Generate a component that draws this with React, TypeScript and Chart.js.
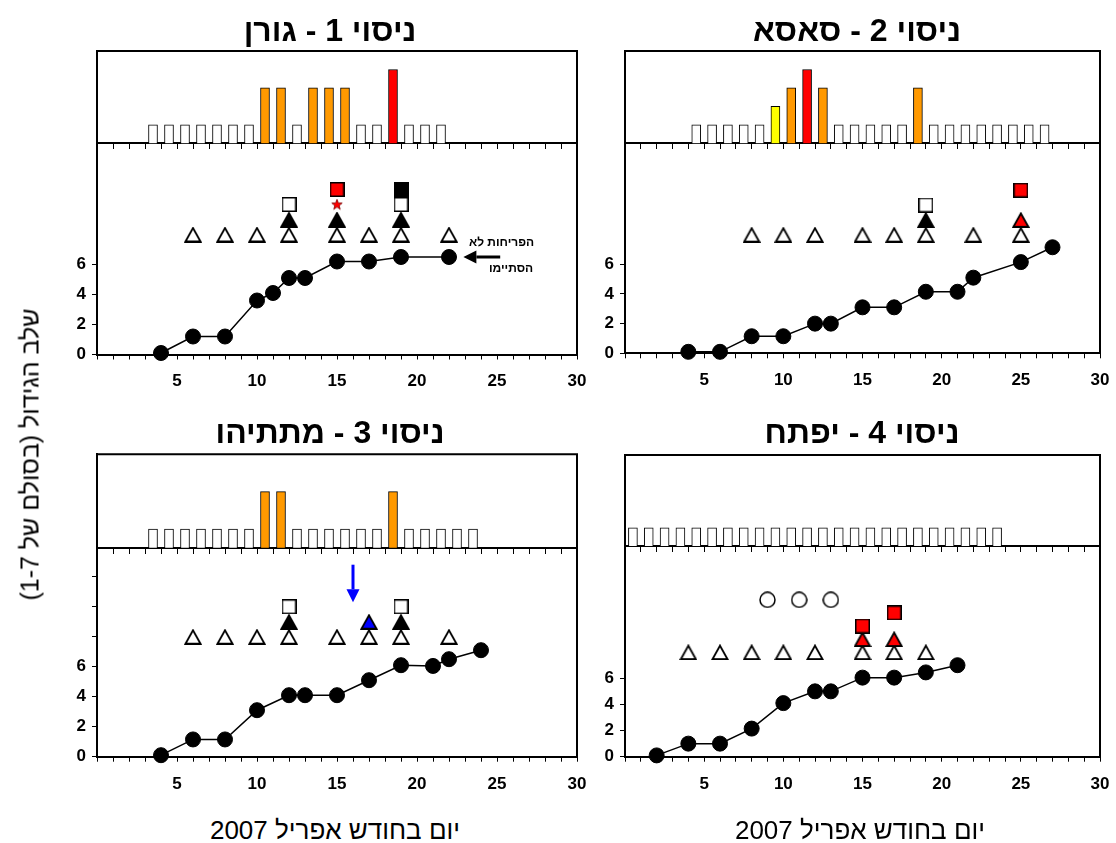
import React, { useEffect, useRef } from 'react';
import { Chart, registerables } from 'chart.js';

Chart.register(...registerables);

const FONT = '"Liberation Sans", Arial, Helvetica, sans-serif';

// ---------- shared axis labels ----------
const X_TICK_LABELS = [5, 10, 15, 20, 25, 30];
const Y_TICK_LABELS = [0, 2, 4, 6];
const X_TITLE = 'יום בחודש אפריל 2007';
const Y_TITLE = 'שלב הגידול (בסולם של 1-7)';
const BAR_MAX = 5;

// ---------- panel 1 ----------
const P1_TITLE = 'ניסוי 1 - גורן';
const P1_Y_TICKS = [0, 2, 4, 6];
const P1_BAR_DAYS = [4, 5, 6, 7, 8, 9, 10, 11, 12, 13, 14, 15, 16, 17, 18, 19, 20, 21, 22];
const P1_BAR_HEIGHTS = [1, 1, 1, 1, 1, 1, 1, 3, 3, 1, 3, 3, 3, 1, 1, 4, 1, 1, 1];
const P1_GROWTH_DAYS = [4, 6, 8, 10, 11, 12, 13, 15, 17, 19, 22];
const P1_GROWTH_VALUES = [0.1, 1.2, 1.2, 3.6, 4.1, 5.1, 5.1, 6.2, 6.2, 6.5, 6.5];
const P1_OPEN_TRI_DAYS = [6, 8, 10, 12, 15, 17, 19, 22];
const P1_OPEN_TRI_VALUES = [8, 8, 8, 8, 8, 8, 8, 8];
const P1_BLACK_TRI_DAYS = [12, 15, 19];
const P1_BLACK_TRI_VALUES = [9, 9, 9];
const P1_WHITE_SQ_DAYS = [12, 19];
const P1_WHITE_SQ_VALUES = [10, 10];
const P1_RED_SQ_DAYS = [15];
const P1_RED_SQ_VALUES = [11];
const P1_RED_STAR_DAYS = [15];
const P1_RED_STAR_VALUES = [10];
const P1_BLACK_SQ_DAYS = [19];
const P1_BLACK_SQ_VALUES = [11];
const P1_NOTE_LINES = ['הפריחות לא', 'הסתיימו'];
const P1_NOTE_ARROW_FROM = 25.2;
const P1_NOTE_ARROW_TO = 22.9;
const P1_NOTE_VALUE = 6.5;

// ---------- panel 2 ----------
const P2_TITLE = 'ניסוי 2 - סאסא';
const P2_Y_TICKS = [0, 2, 4, 6];
const P2_BAR_DAYS = [5, 6, 7, 8, 9, 10, 11, 12, 13, 14, 15, 16, 17, 18, 19, 20, 21, 22, 23, 24, 25, 26, 27];
const P2_BAR_HEIGHTS = [1, 1, 1, 1, 1, 2, 3, 4, 3, 1, 1, 1, 1, 1, 3, 1, 1, 1, 1, 1, 1, 1, 1];
const P2_GROWTH_DAYS = [4, 6, 8, 10, 12, 13, 15, 17, 19, 21, 22, 25, 27];
const P2_GROWTH_VALUES = [0.1, 0.1, 1.15, 1.15, 2.0, 2.0, 3.1, 3.1, 4.15, 4.15, 5.1, 6.15, 7.15];
const P2_OPEN_TRI_DAYS = [8, 10, 12, 15, 17, 19, 22, 25];
const P2_OPEN_TRI_VALUES = [8, 8, 8, 8, 8, 8, 8, 8];
const P2_BLACK_TRI_DAYS = [19];
const P2_BLACK_TRI_VALUES = [9];
const P2_RED_TRI_DAYS = [25];
const P2_RED_TRI_VALUES = [9];
const P2_WHITE_SQ_DAYS = [19];
const P2_WHITE_SQ_VALUES = [10];
const P2_RED_SQ_DAYS = [25];
const P2_RED_SQ_VALUES = [11];

// ---------- panel 3 ----------
const P3_TITLE = 'ניסוי 3 - מתתיהו';
const P3_Y_TICKS = [0, 2, 4, 6, 8, 10, 12];
const P3_BAR_DAYS = [4, 5, 6, 7, 8, 9, 10, 11, 12, 13, 14, 15, 16, 17, 18, 19, 20, 21, 22, 23, 24];
const P3_BAR_HEIGHTS = [1, 1, 1, 1, 1, 1, 1, 3, 3, 1, 1, 1, 1, 1, 1, 3, 1, 1, 1, 1, 1];
const P3_GROWTH_DAYS = [4, 6, 8, 10, 12, 13, 15, 17, 19, 21, 22, 24];
const P3_GROWTH_VALUES = [0.1, 1.15, 1.15, 3.1, 4.1, 4.1, 4.1, 5.1, 6.1, 6.05, 6.5, 7.1];
const P3_OPEN_TRI_DAYS = [6, 8, 10, 12, 15, 17, 19, 22];
const P3_OPEN_TRI_VALUES = [8, 8, 8, 8, 8, 8, 8, 8];
const P3_BLACK_TRI_DAYS = [12, 19];
const P3_BLACK_TRI_VALUES = [9, 9];
const P3_BLUE_TRI_DAYS = [17];
const P3_BLUE_TRI_VALUES = [9];
const P3_WHITE_SQ_DAYS = [12, 19];
const P3_WHITE_SQ_VALUES = [10, 10];
const P3_ARROW_DAY = 16;
const P3_ARROW_FROM = 12.8;
const P3_ARROW_TO = 10.3;

// ---------- panel 4 ----------
const P4_TITLE = 'ניסוי 4 - יפתח';
const P4_Y_TICKS = [0, 2, 4, 6];
const P4_BAR_DAYS = [1, 2, 3, 4, 5, 6, 7, 8, 9, 10, 11, 12, 13, 14, 15, 16, 17, 18, 19, 20, 21, 22, 23, 24];
const P4_BAR_HEIGHTS = [1, 1, 1, 1, 1, 1, 1, 1, 1, 1, 1, 1, 1, 1, 1, 1, 1, 1, 1, 1, 1, 1, 1, 1];
const P4_GROWTH_DAYS = [2, 4, 6, 8, 10, 12, 13, 15, 17, 19, 21];
const P4_GROWTH_VALUES = [0.1, 1.0, 1.0, 2.15, 4.1, 5.0, 5.0, 6.05, 6.05, 6.45, 7.0];
const P4_OPEN_TRI_DAYS = [4, 6, 8, 10, 12, 15, 17, 19];
const P4_OPEN_TRI_VALUES = [8, 8, 8, 8, 8, 8, 8, 8];
const P4_RED_TRI_DAYS = [15, 17];
const P4_RED_TRI_VALUES = [9, 9];
const P4_RED_SQ_DAYS = [15, 17];
const P4_RED_SQ_VALUES = [10, 11];
const P4_OPEN_CIRCLE_DAYS = [9, 11, 13];
const P4_OPEN_CIRCLE_VALUES = [12, 12, 12];

// ---------- styles ----------
const BAR_COLORS: Record<number, string> = { 1: '#FFFFFF', 2: '#FFFF00', 3: '#FF9900', 4: '#FF0000' };

type Geom = { left: number; right: number; top: number; barBase: number; zero: number; unit: number };
type Marker = { kind: string; days: number[]; values: number[] };
type PanelDef = {
  title: string; titleX: number; titleY: number; geom: Geom; yTicks: number[];
  barDays: number[]; barHeights: number[]; growthDays: number[]; growthValues: number[];
  markers: Marker[]; annotate?: (chart: any) => void;
};

function drawArrow(ctx: CanvasRenderingContext2D, x1: number, y1: number, x2: number, y2: number, color: string, width: number, headLen: number, headW: number) {
  const ang = Math.atan2(y2 - y1, x2 - x1);
  const bx = x2 - Math.cos(ang) * headLen;
  const by = y2 - Math.sin(ang) * headLen;
  ctx.save();
  ctx.strokeStyle = color;
  ctx.fillStyle = color;
  ctx.lineWidth = width;
  ctx.beginPath();
  ctx.moveTo(x1, y1);
  ctx.lineTo(bx, by);
  ctx.stroke();
  ctx.beginPath();
  ctx.moveTo(x2, y2);
  ctx.lineTo(bx + Math.sin(ang) * headW / 2, by - Math.cos(ang) * headW / 2);
  ctx.lineTo(bx - Math.sin(ang) * headW / 2, by + Math.cos(ang) * headW / 2);
  ctx.closePath();
  ctx.fill();
  ctx.restore();
}

const PANELS: PanelDef[] = [
  {
    title: P1_TITLE, titleX: 330, titleY: 30, yTicks: P1_Y_TICKS,
    geom: { left: 97, right: 577, top: 51, barBase: 143.3, zero: 354.5, unit: 15 },
    barDays: P1_BAR_DAYS, barHeights: P1_BAR_HEIGHTS, growthDays: P1_GROWTH_DAYS, growthValues: P1_GROWTH_VALUES,
    markers: [
      { kind: 'openTri', days: P1_OPEN_TRI_DAYS, values: P1_OPEN_TRI_VALUES },
      { kind: 'blackTri', days: P1_BLACK_TRI_DAYS, values: P1_BLACK_TRI_VALUES },
      { kind: 'whiteSq', days: P1_WHITE_SQ_DAYS, values: P1_WHITE_SQ_VALUES },
      { kind: 'redSq', days: P1_RED_SQ_DAYS, values: P1_RED_SQ_VALUES },
      { kind: 'blackSq', days: P1_BLACK_SQ_DAYS, values: P1_BLACK_SQ_VALUES },
      { kind: 'redStar', days: P1_RED_STAR_DAYS, values: P1_RED_STAR_VALUES },
    ],
    annotate: (chart) => {
      const { ctx, scales } = chart;
      const y = scales.y.getPixelForValue(P1_NOTE_VALUE);
      const xFrom = scales.x.getPixelForValue(P1_NOTE_ARROW_FROM);
      const xTo = scales.x.getPixelForValue(P1_NOTE_ARROW_TO);
      drawArrow(ctx, xFrom, y, xTo, y, '#000', 3, 13, 13);
      ctx.save();
      ctx.font = `bold 12px ${FONT}`;
      ctx.fillStyle = '#000';
      ctx.direction = 'rtl';
      ctx.textAlign = 'right';
      ctx.textBaseline = 'middle';
      ctx.fillText(P1_NOTE_LINES[0], xFrom + 34, y - 14);
      ctx.fillText(P1_NOTE_LINES[1], xFrom + 33, y + 12);
      ctx.restore();
    },
  },
  {
    title: P2_TITLE, titleX: 857, titleY: 30, yTicks: P2_Y_TICKS,
    geom: { left: 625, right: 1100, top: 51, barBase: 143.3, zero: 353.3, unit: 14.83 },
    barDays: P2_BAR_DAYS, barHeights: P2_BAR_HEIGHTS, growthDays: P2_GROWTH_DAYS, growthValues: P2_GROWTH_VALUES,
    markers: [
      { kind: 'openTri', days: P2_OPEN_TRI_DAYS, values: P2_OPEN_TRI_VALUES },
      { kind: 'blackTri', days: P2_BLACK_TRI_DAYS, values: P2_BLACK_TRI_VALUES },
      { kind: 'redTri', days: P2_RED_TRI_DAYS, values: P2_RED_TRI_VALUES },
      { kind: 'whiteSq', days: P2_WHITE_SQ_DAYS, values: P2_WHITE_SQ_VALUES },
      { kind: 'redSq', days: P2_RED_SQ_DAYS, values: P2_RED_SQ_VALUES },
    ],
  },
  {
    title: P3_TITLE, titleX: 330, titleY: 432, yTicks: P3_Y_TICKS,
    geom: { left: 97, right: 577, top: 454.3, barBase: 547.7, zero: 756.7, unit: 15 },
    barDays: P3_BAR_DAYS, barHeights: P3_BAR_HEIGHTS, growthDays: P3_GROWTH_DAYS, growthValues: P3_GROWTH_VALUES,
    markers: [
      { kind: 'openTri', days: P3_OPEN_TRI_DAYS, values: P3_OPEN_TRI_VALUES },
      { kind: 'blackTri', days: P3_BLACK_TRI_DAYS, values: P3_BLACK_TRI_VALUES },
      { kind: 'blueTri', days: P3_BLUE_TRI_DAYS, values: P3_BLUE_TRI_VALUES },
      { kind: 'whiteSq', days: P3_WHITE_SQ_DAYS, values: P3_WHITE_SQ_VALUES },
    ],
    annotate: (chart) => {
      const { ctx, scales } = chart;
      const x = scales.x.getPixelForValue(P3_ARROW_DAY);
      drawArrow(ctx, x, scales.y.getPixelForValue(P3_ARROW_FROM), x, scales.y.getPixelForValue(P3_ARROW_TO), '#0000FF', 3, 13, 13);
    },
  },
  {
    title: P4_TITLE, titleX: 862, titleY: 432, yTicks: P4_Y_TICKS,
    geom: { left: 625, right: 1100, top: 455, barBase: 546, zero: 756.7, unit: 13.07 },
    barDays: P4_BAR_DAYS, barHeights: P4_BAR_HEIGHTS, growthDays: P4_GROWTH_DAYS, growthValues: P4_GROWTH_VALUES,
    markers: [
      { kind: 'openTri', days: P4_OPEN_TRI_DAYS, values: P4_OPEN_TRI_VALUES },
      { kind: 'redTri', days: P4_RED_TRI_DAYS, values: P4_RED_TRI_VALUES },
      { kind: 'redSq', days: P4_RED_SQ_DAYS, values: P4_RED_SQ_VALUES },
      { kind: 'openCircle', days: P4_OPEN_CIRCLE_DAYS, values: P4_OPEN_CIRCLE_VALUES },
    ],
  },
];

const markerCache: Record<string, HTMLCanvasElement> = {};
function markerImage(kind: string): HTMLCanvasElement {
  if (markerCache[kind]) return markerCache[kind];
  const c = document.createElement('canvas');
  const ctx = c.getContext('2d')!;
  if (kind.endsWith('Tri')) {
    c.width = 18; c.height = 16;
    ctx.strokeStyle = '#000';
    ctx.lineWidth = 1.8;
    ctx.lineJoin = 'miter';
    ctx.fillStyle = kind === 'openTri' ? '#FFFFFF' : kind === 'blackTri' ? '#000000' : kind === 'redTri' ? '#FF0000' : '#0000FF';
    ctx.beginPath();
    ctx.moveTo(1.5, 15);
    ctx.lineTo(9, 1.5);
    ctx.lineTo(16.5, 15);
    ctx.closePath();
    ctx.fill();
    ctx.stroke();
  } else if (kind.endsWith('Sq')) {
    c.width = 15; c.height = 15;
    ctx.strokeStyle = '#000';
    ctx.lineWidth = 1.5;
    ctx.fillStyle = kind === 'whiteSq' ? '#FFFFFF' : kind === 'redSq' ? '#FF0000' : '#000000';
    ctx.fillRect(0.75, 0.75, 13.5, 13.5);
    ctx.strokeRect(0.75, 0.75, 13.5, 13.5);
  } else if (kind === 'redStar') {
    c.width = 12; c.height = 12;
    ctx.fillStyle = '#FF0000';
    ctx.strokeStyle = '#800000';
    ctx.lineWidth = 0.8;
    ctx.beginPath();
    for (let i = 0; i < 10; i++) {
      const r = i % 2 === 0 ? 5.5 : 2.3;
      const a = -Math.PI / 2 + (i * Math.PI) / 5;
      const px = 6 + Math.cos(a) * r;
      const py = 6.3 + Math.sin(a) * r;
      if (i === 0) ctx.moveTo(px, py); else ctx.lineTo(px, py);
    }
    ctx.closePath();
    ctx.fill();
    ctx.stroke();
  } else {
    c.width = 17; c.height = 17;
    ctx.strokeStyle = '#000';
    ctx.lineWidth = 1.5;
    ctx.fillStyle = '#FFFFFF';
    ctx.beginPath();
    ctx.arc(8.5, 8.5, 7.5, 0, Math.PI * 2);
    ctx.fill();
    ctx.stroke();
  }
  markerCache[kind] = c;
  return c;
}

function PanelChart({ panel }: { panel: PanelDef }) {
  const ref = useRef<HTMLCanvasElement>(null);
  const g = panel.geom;
  const canvasLeft = Math.floor(g.left - 60);
  const canvasTop = Math.floor(g.top - 24);
  const yAxisW = g.left - canvasLeft;
  const padTop = g.top - canvasTop;
  const canvasW = Math.ceil(g.right - canvasLeft + 34);
  const padRight = canvasW - (g.right - canvasLeft);
  const canvasH = Math.ceil(g.zero - canvasTop + 50);
  const xAxisH = canvasH - (g.zero - canvasTop);

  useEffect(() => {
    const yMax = (g.zero - g.top) / g.unit;
    const barUnit = (g.barBase - g.top) / BAR_MAX;
    const y2Min = BAR_MAX - (g.zero - g.top) / barUnit;

    const datasets: any[] = [];
    datasets.push({
      type: 'line',
      data: panel.growthDays.map((d, i) => ({ x: d, y: panel.growthValues[i] })),
      borderColor: '#000', borderWidth: 1.5, showLine: true,
      pointStyle: 'circle', pointRadius: 7.5, pointBackgroundColor: '#000', pointBorderColor: '#000', pointBorderWidth: 1,
      xAxisID: 'x', yAxisID: 'y', order: 0, clip: false,
    });
    panel.markers.forEach((m, idx) => {
      datasets.push({
        type: 'scatter',
        data: m.days.map((d, i) => ({ x: d, y: m.values[i] })),
        pointStyle: markerImage(m.kind), pointRadius: 8,
        xAxisID: 'x', yAxisID: 'y', order: 1 + (panel.markers.length - idx), clip: false,
      });
    });
    datasets.push({
      type: 'bar',
      data: panel.barDays.map((d, i) => ({ x: d - 0.5, y: panel.barHeights[i] })),
      backgroundColor: panel.barHeights.map((h) => BAR_COLORS[h]),
      borderColor: '#000', borderWidth: 1, borderSkipped: 'start', barThickness: 9,
      xAxisID: 'x', yAxisID: 'y2', order: 50,
    });

    const framePlugin = {
      id: 'frame',
      beforeDatasetsDraw(chart: any) {
        const { ctx, chartArea: a } = chart;
        ctx.save();
        ctx.strokeStyle = '#000';
        ctx.lineWidth = 2;
        ctx.beginPath();
        ctx.moveTo(a.left, a.top);
        ctx.lineTo(a.right, a.top);
        ctx.lineTo(a.right, a.bottom);
        ctx.stroke();
        ctx.restore();
      },
      afterDatasetsDraw(chart: any) {
        if (panel.annotate) panel.annotate(chart);
      },
    };

    const tickFont = { family: FONT, size: 17, weight: 'bold' as const };
    const chart = new Chart(ref.current!, {
      type: 'scatter',
      data: { datasets },
      plugins: [framePlugin],
      options: {
        animation: false,
        responsive: false,
        events: [],
        layout: { padding: { top: padTop, right: padRight, left: 0, bottom: 0 } },
        plugins: { legend: { display: false }, tooltip: { enabled: false }, title: { display: false } },
        scales: {
          x: {
            type: 'linear', position: 'bottom', min: 0, max: 30, offset: false,
            afterFit: (s: any) => { s.height = xAxisH; },
            ticks: {
              stepSize: 1, maxTicksLimit: 31, autoSkip: false, maxRotation: 0, minRotation: 0,
              callback: (v: any) => (X_TICK_LABELS.includes(Number(v)) ? String(v) : ''),
              font: tickFont, color: '#000', padding: 12,
            },
            grid: { drawOnChartArea: false, drawTicks: true, tickLength: 5, color: '#000', lineWidth: 1, offset: false },
            border: { display: true, color: '#000', width: 2 },
          },
          x2: {
            type: 'linear', position: { y2: 0 } as any, min: 0, max: 30, offset: false,
            afterFit: (s: any) => { s.height = 0; },
            ticks: { stepSize: 1, maxTicksLimit: 31, autoSkip: false, display: false },
            grid: { drawOnChartArea: false, drawTicks: true, tickLength: 5, color: '#000', lineWidth: 1, offset: false },
            border: { display: true, color: '#000', width: 2 },
          },
          y: {
            type: 'linear', position: 'left', min: 0, max: yMax,
            afterFit: (s: any) => { s.width = yAxisW; },
            afterBuildTicks: (s: any) => { s.ticks = panel.yTicks.map((v) => ({ value: v })); },
            ticks: {
              callback: (v: any) => (Y_TICK_LABELS.includes(Number(v)) ? String(v) : ''),
              font: tickFont, color: '#000', padding: 6,
            },
            grid: { drawOnChartArea: false, drawTicks: true, tickLength: 5, color: '#000', lineWidth: 1 },
            border: { display: true, color: '#000', width: 2 },
          },
          y2: { type: 'linear', display: false, min: y2Min, max: BAR_MAX },
        },
      } as any,
    });
    return () => chart.destroy();
  }, []);

  return (
    <canvas
      ref={ref}
      width={canvasW}
      height={canvasH}
      style={{ position: 'absolute', left: canvasLeft, top: canvasTop, width: canvasW, height: canvasH }}
    />
  );
}

function Label({ text, cx, cy, size, bold, rotate }: { text: string; cx: number; cy: number; size: number; bold?: boolean; rotate?: boolean }) {
  const w = 500;
  const h = size * 1.4;
  return (
    <div
      dir="rtl"
      style={{
        position: 'absolute', left: cx - w / 2, top: cy - h / 2, width: w, height: h, lineHeight: `${h}px`,
        textAlign: 'center', fontFamily: FONT, fontSize: size, fontWeight: bold ? 'bold' : 'normal', color: '#000',
        transform: rotate ? 'rotate(-90deg)' : undefined, whiteSpace: 'nowrap',
      }}
    >
      {text}
    </div>
  );
}

export default function App() {
  return (
    <div style={{ position: 'fixed', left: 0, top: 0, width: 1116, height: 843, background: '#fff', overflow: 'hidden' }}>
      {PANELS.map((p, i) => (
        <PanelChart key={i} panel={p} />
      ))}
      {PANELS.map((p, i) => (
        <Label key={'t' + i} text={p.title} cx={p.titleX} cy={p.titleY} size={32} bold />
      ))}
      <Label text={Y_TITLE} cx={30} cy={454} size={25} rotate />
      <Label text={X_TITLE} cx={335} cy={830} size={26} />
      <Label text={X_TITLE} cx={860} cy={830} size={26} />
    </div>
  );
}
